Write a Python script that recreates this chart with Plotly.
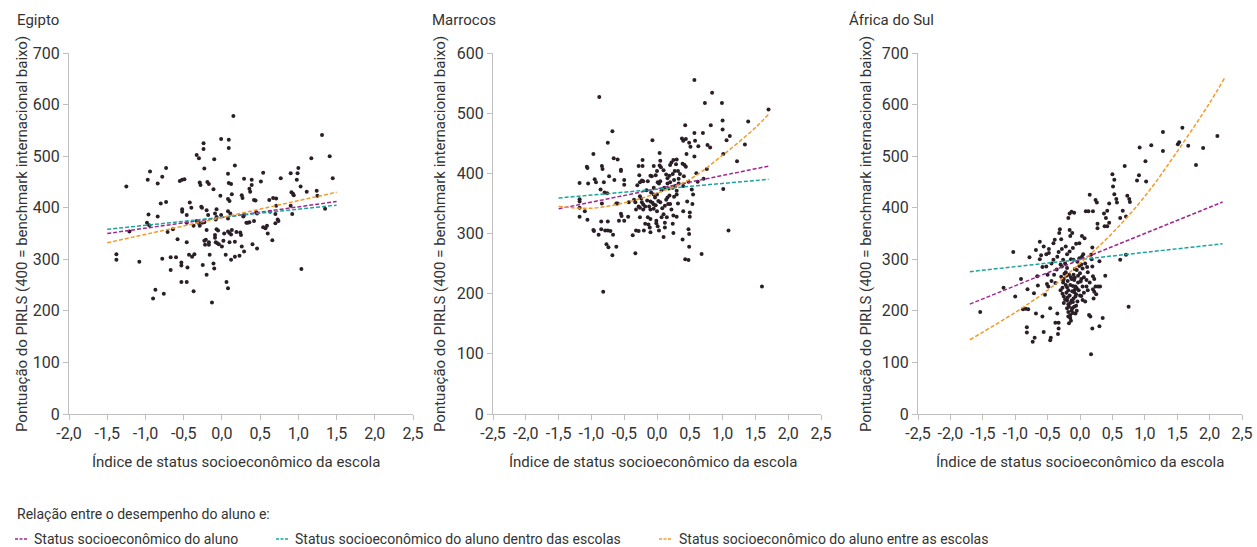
import plotly.graph_objects as go

# ---------------- data ----------------
countries = ["Egipto", "Marrocos", "África do Sul"]

egy_x = [-1.25,-1.21,-1.38,-1.38,-1.08,-0.97,-0.94,-0.96,-0.98,-0.95,-0.84,-0.78,-0.73,-0.80,-0.73,-0.84,-0.71,-0.64,-0.78,-0.67,
         -0.60,-0.67,-0.87,-0.90,-0.76,-0.55,-0.52,-0.49,-0.52,-0.52,-0.58,-0.46,-0.46,-0.46,-0.42,-0.40,-0.53,-0.53,-0.53,-0.46,
         -0.45,-0.43,-0.39,-0.36,-0.37,-0.37,-0.33,-0.31,-0.33,-0.30,-0.29,-0.28,-0.27,-0.26,-0.26,-0.29,-0.24,-0.24,-0.23,-0.23,
         -0.23,-0.20,-0.21,-0.22,-0.25,-0.20,-0.19,-0.17,-0.20,-0.18,-0.17,-0.17,-0.16,-0.13,-0.10,-0.11,-0.09,-0.07,-0.07,-0.11,
         -0.10,-0.08,-0.07,-0.05,-0.09,-0.09,-0.08,-0.06,-0.04,-0.01,-0.02,-0.01,0.00,0.02,0.03,0.05,0.06,0.08,0.09,0.09,
         0.08,0.10,0.09,0.12,0.08,0.11,0.08,0.08,0.10,0.12,0.08,0.10,0.13,0.13,0.12,0.15,0.17,0.17,0.19,0.17,
         0.23,0.24,0.25,0.26,0.27,0.29,0.29,0.28,0.26,0.29,0.32,0.34,0.36,0.36,0.39,0.39,0.37,0.40,0.42,0.44,
         0.42,0.45,0.46,0.46,0.51,0.54,0.54,0.57,0.60,0.59,0.62,0.63,0.66,0.67,0.71,0.70,0.70,0.73,0.74,0.71,
         0.77,0.90,0.91,0.93,0.90,0.92,0.94,0.99,1.00,0.98,1.03,1.04,1.11,1.17,1.24,1.25,1.31,1.35,1.41,1.45]
egy_y = [441,354,310,299,295,454,470,387,371,366,447,460,477,408,411,383,353,358,301,304,
         304,279,241,224,233,452,454,455,397,392,339,386,371,333,410,400,294,288,256,256,
         284,309,305,310,238,365,374,371,502,496,449,444,402,400,371,365,525,514,476,372,
         336,357,338,328,289,270,450,446,395,386,328,333,309,216,494,436,389,397,382,292,
         282,377,358,356,347,342,333,331,329,533,423,386,325,336,350,309,256,466,532,516,
         417,413,448,446,393,389,379,354,351,348,244,333,426,357,299,578,305,482,353,334,
         307,352,347,424,419,456,386,383,325,315,371,371,372,437,454,444,431,329,415,414,
         374,391,389,321,451,468,362,360,350,365,415,392,337,419,418,388,370,377,374,404,
         457,467,430,427,404,388,424,467,477,454,441,281,431,496,433,423,541,398,500,457]

mar_x = [-0.88,-0.68,-0.75,-0.97,-1.07,-1.06,-1.18,-1.05,-0.95,-0.93,-0.84,-0.83,-0.81,-0.73,-0.66,-0.60,-0.65,-0.80,-0.76,-0.84,
         -0.86,-0.55,-0.55,-0.50,-0.50,-1.18,-1.18,-1.18,-1.10,-1.18,-1.06,-0.97,-0.96,-0.89,-0.85,-0.75,-0.85,-0.79,-0.75,-0.71,
         -0.67,-0.77,-0.74,-0.68,-0.62,-0.62,-0.60,-0.58,-0.55,-0.54,-0.50,-0.43,-0.44,-0.37,-0.33,-0.82,-0.35,-0.33,-0.32,-0.28,
         -0.28,-0.22,-0.22,-0.27,-0.26,-0.23,-0.26,-0.24,-0.21,-0.23,-0.26,-0.21,-0.32,-0.26,-0.21,-0.15,-0.14,-0.10,-0.07,-0.05,
         0.00,0.04,0.05,0.04,0.06,-0.02,0.01,0.05,-0.05,-0.09,-0.05,-0.10,-0.07,-0.05,-0.02,-0.10,-0.14,-0.10,-0.05,0.00,
         0.02,0.00,-0.01,-0.01,0.01,0.03,-0.10,-0.11,-0.20,-0.18,0.10,0.12,0.07,0.10,0.15,0.12,0.17,0.20,0.16,0.19,
         0.11,0.16,0.16,0.14,0.19,0.20,0.22,0.25,0.30,0.29,0.24,0.26,0.28,0.24,0.30,0.30,0.26,0.33,0.33,0.35,
         0.32,0.25,0.24,0.25,0.32,0.30,0.38,0.40,0.39,0.42,0.44,0.41,0.40,0.40,0.39,0.43,0.44,0.45,0.48,0.46,
         0.48,0.49,0.49,0.50,0.50,0.49,0.51,0.53,0.54,0.55,0.57,0.57,0.58,0.60,0.63,0.62,0.43,0.48,0.57,0.68,
         0.70,0.71,0.73,0.76,0.77,0.81,0.82,0.84,0.99,1.00,1.00,1.01,1.01,1.06,1.11,1.09,1.22,1.34,1.39,1.60,
         1.70,-0.12,-0.03,0.07,0.14,0.08,-0.16,0.22,-0.08,0.10,0.18,-0.30,0.03,0.27,-0.18,0.12,-0.28,0.05,-0.13,0.20]
mar_y = [527,470,451,432,411,409,384,383,390,385,412,407,385,395,425,423,389,368,367,350,
         373,406,404,389,381,357,353,343,337,328,323,306,304,298,320,320,307,305,305,304,
         298,282,277,264,278,350,350,321,333,329,321,352,328,297,267,203,356,352,305,304,
         412,412,422,397,385,388,362,358,387,352,343,340,340,327,348,355,387,396,455,412,
         404,434,421,413,410,397,385,387,376,368,365,353,351,348,347,340,327,324,341,365,
         354,337,321,317,312,305,302,310,305,316,294,310,327,332,327,346,349,349,360,363,
         376,383,392,398,396,414,418,422,423,415,399,389,379,376,371,365,361,383,391,399,
         404,330,316,301,350,328,458,454,416,414,411,395,379,337,290,480,457,432,386,353,
         307,299,278,335,328,451,444,373,349,365,467,428,454,400,445,386,257,256,555,266,
         467,391,517,407,447,443,480,534,517,488,473,432,374,455,462,305,420,448,486,212,
         506,345,360,372,356,342,372,340,395,405,375,380,383,404,345,318,345,352,315,385]

saf_x = [-1.54,-1.18,-1.03,-1.00,-0.91,-0.88,-0.84,-0.80,-0.78,-0.82,-0.82,-0.81,-0.73,-0.70,-0.71,-0.68,-0.68,-0.66,-0.65,-0.62,
         -0.60,-0.58,-0.56,-0.56,-0.54,-0.51,-0.52,-0.48,-0.52,-0.49,-0.48,-0.46,-0.45,-0.46,-0.44,-0.41,-0.41,-0.39,-0.38,-0.33,
         -0.38,-0.36,-0.35,-0.33,-0.32,-0.31,-0.34,-0.33,-0.29,-0.27,-0.25,-0.26,-0.26,-0.29,-0.28,-0.26,-0.23,-0.24,-0.21,-0.20,
         -0.18,-0.20,-0.18,-0.18,-0.15,-0.18,-0.17,-0.15,-0.14,-0.13,-0.11,-0.16,-0.18,-0.16,-0.13,-0.09,-0.15,-0.12,-0.11,-0.10,
         -0.08,-0.05,-0.08,-0.09,-0.07,-0.08,-0.10,-0.06,-0.04,-0.01,-0.01,0.03,-0.01,0.02,0.00,0.01,0.04,0.02,0.04,0.09,
         0.07,0.08,0.10,0.14,0.16,0.13,0.15,0.17,0.19,0.20,0.19,0.20,0.20,0.21,0.19,0.17,0.22,0.24,0.26,0.24,
         0.28,0.27,0.27,0.30,0.30,0.31,0.35,0.39,0.37,0.40,0.38,0.42,0.42,0.45,0.45,0.50,0.51,0.53,0.53,0.56,
         0.57,0.62,0.62,0.66,0.69,0.71,0.71,0.73,0.76,0.77,0.75,0.88,0.91,0.92,1.01,1.02,1.10,1.28,1.28,1.51,
         1.53,1.58,1.67,1.79,1.90,2.12,-0.22,-0.14,-0.12,-0.06,-0.20,-0.16,-0.10,-0.03,-0.25,-0.12,-0.20,-0.04,0.06,-0.30,
         -0.14,0.11,-0.40,0.05,-0.22,0.12,
         -0.25,-0.22,-0.19,-0.17,-0.15,-0.13,-0.11,-0.09,-0.07,-0.05,-0.03,-0.02,0.00,0.02,0.04,0.06,0.08,0.10,-0.27,-0.23,
         -0.21,-0.19,-0.17,-0.15,-0.13,-0.11,-0.09,-0.07,-0.05,-0.30,-0.35,-0.44,-0.50,-0.58,-0.62,0.12,0.15,0.18,0.22,0.25,
         -0.16,-0.06,0.03,-0.20,-0.28]
saf_y = [198,245,314,228,262,203,204,203,304,168,158,242,140,148,234,318,195,267,249,334,
         308,189,325,159,231,252,310,312,286,247,320,143,148,205,292,331,299,338,177,177,
         254,280,195,314,351,358,155,166,339,233,228,260,255,266,286,299,292,272,268,246,
         240,220,213,198,192,189,176,186,181,220,217,357,380,389,392,390,345,351,322,299,
         281,279,264,260,247,241,224,210,218,331,302,305,287,290,273,257,247,229,221,393,
         341,292,247,192,189,393,425,309,286,267,323,393,242,224,166,116,237,415,410,247,
         247,369,360,170,296,247,186,268,389,380,364,364,394,408,371,465,441,426,454,417,
         410,299,380,394,481,383,309,423,417,411,208,453,463,517,490,451,521,547,510,523,
         527,555,520,483,516,539,250,265,238,232,205,230,270,255,215,205,283,295,265,240,
         300,285,270,310,325,240,
         262,275,258,270,250,262,248,236,228,244,268,240,230,262,282,235,218,260,245,222,
         235,226,208,215,200,196,208,195,200,290,305,258,270,285,300,275,255,300,262,232,
         315,330,345,310,320]

# fitted relationships
egy_line_x = [-1.5, 1.5]
egy_aluno = [350, 412]
egy_dentro = [358, 405]
egy_entre = [332, 430]

mar_line_x = [-1.5, 1.7]
mar_aluno = [341, 412]
mar_dentro = [359, 390]
mar_entre_x = [-1.5, -1.0, -0.5, 0.0, 0.5, 1.0, 1.5, 1.7]
mar_entre = [345, 342, 351, 367, 390, 430, 476, 498]

saf_line_x = [-1.7, 2.2]
saf_aluno = [213, 411]
saf_dentro = [276, 330]
saf_entre_x = [-1.7, -1.0, -0.5, 0.0, 0.5, 1.0, 1.5, 2.0, 2.23]
saf_entre = [144, 197, 240, 292, 351, 422, 509, 603, 651]

series_names = ["Status socioeconômico do aluno",
                "Status socioeconômico do aluno dentro das escolas",
                "Status socioeconômico do aluno entre as escolas"]
series_colors = ["#a0278f", "#1aa59b", "#f39a2c"]

y_ranges = [[0, 700], [0, 600], [0, 700]]
x_ranges = [[-2.0, 2.5], [-2.5, 2.5], [-2.5, 2.5]]
x_tick_vals_all = [-2.5, -2.0, -1.5, -1.0, -0.5, 0.0, 0.5, 1.0, 1.5, 2.0, 2.5]
x_tick_text_all = ["-2,5", "-2,0", "-1,5", "-1,0", "-0,5", "0,0", "0,5", "1,0", "1,5", "2,0", "2,5"]

y_title = "Pontuação do PIRLS (400 = benchmark internacional baixo)"
x_title = "Índice de status socioeconômico da escola"
legend_title = "Relação entre o desempenho do aluno e:"

# ---------------- layout geometry ----------------
W, H = 1257, 547
FONT = "Roboto, sans-serif"
TXT = "#333333"
AX = "#bfbfbf"
plot_px = [(69, 413), (493, 821), (918, 1242)]
ytop_px, ybot_px = 53, 414
ydom = [(H - ybot_px) / H, (H - ytop_px) / H]
title_x_px = [15, 430, 847]
ytitle_x_px = [22, 440, 866]
xtitle_x_px = [236, 653, 1080]

fig = go.Figure()

panels = [
    (egy_x, egy_y, [(egy_line_x, egy_aluno), (egy_line_x, egy_dentro), (egy_line_x, egy_entre)]),
    (mar_x, mar_y, [(mar_line_x, mar_aluno), (mar_line_x, mar_dentro), (mar_entre_x, mar_entre)]),
    (saf_x, saf_y, [(saf_line_x, saf_aluno), (saf_line_x, saf_dentro), (saf_entre_x, saf_entre)]),
]

annotations = []
for i, (px, py, lines) in enumerate(panels):
    xa = "x" if i == 0 else f"x{i+1}"
    ya = "y" if i == 0 else f"y{i+1}"
    fig.add_trace(go.Scatter(x=px, y=py, mode="markers", xaxis=xa, yaxis=ya,
                             marker=dict(size=4, color="#2b1f27"), showlegend=False,
                             hoverinfo="x+y"))
    for k, (lx, ly) in enumerate(lines):
        fig.add_trace(go.Scatter(x=lx, y=ly, mode="lines", xaxis=xa, yaxis=ya,
                                 line=dict(color=series_colors[k], width=1.5, dash="4px,2px",
                                           shape="spline" if len(lx) > 2 else "linear"),
                                 name=series_names[k], showlegend=False))
    x0, x1 = plot_px[i]
    ticks = [(v, t) for v, t in zip(x_tick_vals_all, x_tick_text_all) if x_ranges[i][0] - 1e-9 <= v]
    axis_common = dict(showgrid=False, zeroline=False, showline=True, linecolor=AX, linewidth=1,
                       ticks="outside", ticklen=5, tickcolor=AX, automargin=False,
                       ticklabeloverflow="allow",
                       tickfont=dict(family=FONT, size=16, color=TXT))
    fig.layout[("xaxis" if i == 0 else f"xaxis{i+1}")] = dict(
        domain=[x0 / W, x1 / W], range=x_ranges[i], anchor=ya,
        tickvals=[t[0] for t in ticks], ticktext=[t[1] for t in ticks], **axis_common)
    fig.layout[("yaxis" if i == 0 else f"yaxis{i+1}")] = dict(
        domain=ydom, range=y_ranges[i], anchor=xa, dtick=100, **axis_common)
    annotations.append(dict(text=countries[i], x=title_x_px[i] / W, y=(H - 20) / H, xref="paper", yref="paper",
                            xanchor="left", yanchor="middle", showarrow=False,
                            font=dict(family=FONT, size=15, color=TXT)))
    annotations.append(dict(text=y_title, x=ytitle_x_px[i] / W, y=(H - 234) / H, xref="paper", yref="paper",
                            xanchor="center", yanchor="middle", textangle=-90, showarrow=False,
                            font=dict(family=FONT, size=15, color=TXT)))
    annotations.append(dict(text=x_title, x=xtitle_x_px[i] / W, y=(H - 462) / H, xref="paper", yref="paper",
                            xanchor="center", yanchor="middle", showarrow=False,
                            font=dict(family=FONT, size=15, color=TXT)))

# legend block (bottom)
annotations.append(dict(text=legend_title, x=15 / W, y=(H - 514) / H, xref="paper", yref="paper",
                        xanchor="left", yanchor="middle", showarrow=False,
                        font=dict(family=FONT, size=14, color=TXT)))
legend_dash_px = [(15, 28), (276, 288), (659, 671)]
legend_text_px = [32, 293, 677]
shapes = []
for k in range(3):
    a, b = legend_dash_px[k]
    shapes.append(dict(type="line", xref="paper", yref="paper", x0=a / W, x1=b / W,
                       y0=(H - 539) / H, y1=(H - 539) / H,
                       line=dict(color=series_colors[k], width=1.5, dash="3px,1.5px")))
    annotations.append(dict(text=series_names[k], x=legend_text_px[k] / W, y=(H - 539) / H,
                            xref="paper", yref="paper", xanchor="left", yanchor="middle",
                            showarrow=False, font=dict(family=FONT, size=14, color=TXT)))

fig.update_layout(width=W, height=H, margin=dict(l=0, r=0, t=0, b=0),
                  paper_bgcolor="white", plot_bgcolor="white",
                  annotations=annotations, shapes=shapes, showlegend=False,
                  font=dict(family=FONT, color=TXT))

fig.write_html("out.html")
